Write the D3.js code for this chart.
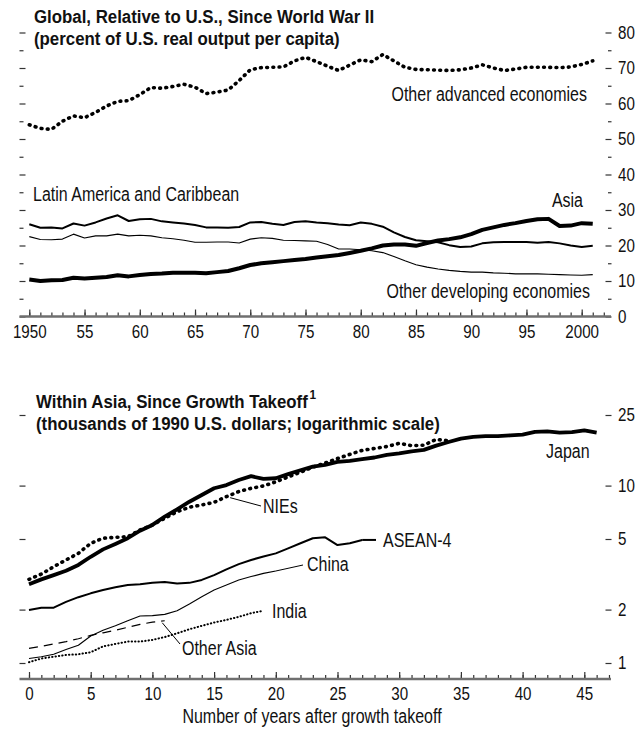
<!DOCTYPE html>
<html>
<head>
<meta charset="utf-8">
<script src="https://cdn.jsdelivr.net/npm/d3@7/dist/d3.min.js"></script>
<style>
  body { margin: 0; background: #fff; }
  svg { display: block; }
  text { font-family: "Liberation Sans", Arial, sans-serif; fill: #111; }
  .title { font-weight: bold; font-size: 18.5px; }
  .lbl { font-size: 19.5px; }
  .tick text { font-size: 18.5px; font-family: "Liberation Sans", Arial, sans-serif; fill: #111; }
  .tick line { stroke: #333; stroke-width: 1.2; }
  .series { fill: none; stroke: #000; stroke-linejoin: round; }
</style>
</head>
<body>
<svg id="chart" width="638" height="731"></svg>
<script>
/********** DATA **********/

// Top panel: percent of U.S. real output per capita, 1950-2001
var years = d3.range(1950, 2002);
var otherAdvanced = [54.0, 53.0, 52.7, 55.0, 56.5, 56.0, 57.5, 59.3, 60.6, 60.8,
  62.5, 64.5, 64.3, 64.8, 65.4, 64.6, 62.8, 63.2, 63.8, 66.5,
  69.5, 70.1, 70.2, 70.3, 72.0, 73.0, 71.8, 70.5, 69.3, 70.8,
  72.3, 71.8, 73.8, 72.0, 70.2, 69.6, 69.5, 69.4, 69.3, 69.5,
  70.0, 70.9, 70.0, 69.3, 69.7, 70.2, 70.2, 70.2, 70.1, 70.3,
  71.0, 72.0];
var latinAmerica = [26.0, 25.0, 25.1, 24.8, 26.2, 25.6, 26.5, 27.6, 28.5, 26.9,
  27.4, 27.5, 26.8, 26.5, 26.2, 25.8, 25.1, 25.1, 25.0, 25.2,
  26.5, 26.6, 26.1, 25.8, 26.6, 26.8, 26.5, 26.3, 25.9, 25.7,
  26.5, 26.1, 25.3, 23.7, 22.4, 21.5, 21.2, 20.9, 20.1, 19.6,
  19.7, 20.6, 20.9, 21.0, 21.0, 21.0, 20.8, 21.0, 20.6, 20.0,
  19.6, 19.9];
var otherDeveloping = [22.5, 21.7, 21.6, 21.8, 23.2, 22.1, 22.7, 22.7, 23.2, 22.7,
  22.9, 22.7, 22.2, 21.9, 21.5, 20.9, 20.9, 21.0, 21.0, 20.7,
  21.8, 22.2, 22.0, 21.5, 21.4, 21.3, 21.2, 20.3, 19.0, 19.0,
  18.8, 18.5, 18.0, 16.9, 15.7, 14.6, 13.9, 13.4, 13.0, 12.7,
  12.5, 12.5, 12.3, 12.2, 12.0, 12.0, 12.0, 11.9, 11.8, 11.7,
  11.6, 11.8];
var asia = [10.4, 10.0, 10.2, 10.3, 10.9, 10.7, 10.9, 11.1, 11.6, 11.3,
  11.7, 12.0, 12.1, 12.3, 12.3, 12.3, 12.2, 12.5, 12.8, 13.6,
  14.5, 15.0, 15.3, 15.6, 15.9, 16.2, 16.6, 17.0, 17.3, 17.9,
  18.5, 19.2, 20.0, 20.3, 20.3, 19.9, 20.7, 21.4, 21.8, 22.3,
  23.2, 24.4, 25.1, 25.8, 26.3, 26.9, 27.4, 27.5, 25.5, 25.6,
  26.3, 26.1];
var topMajorTicks = [0, 10, 20, 30, 40, 50, 60, 70, 80];
var topMinorTicks = [5, 15, 25, 35, 45, 55, 65, 75];

// Bottom panel: thousands of 1990 U.S. dollars, by years after takeoff
var japan = [2.78, 2.96, 3.13, 3.31, 3.57, 3.97, 4.37, 4.69, 5.05, 5.57,
  6.0, 6.68, 7.35, 8.11, 8.85, 9.66, 10.07, 10.75, 11.3, 10.9,
  11.0, 11.6, 12.2, 12.8, 13.1, 13.6, 13.8, 14.1, 14.4, 14.9,
  15.2, 15.6, 15.9, 16.8, 17.6, 18.4, 18.8, 19.0, 19.0, 19.2,
  19.4, 20.1, 20.2, 19.9, 20.0, 20.5, 19.9];
var nies = [2.96, 3.17, 3.49, 3.81, 4.15, 4.73, 5.05, 5.11, 5.15, 5.62,
  6.0, 6.54, 7.13, 7.55, 7.78, 8.05, 8.66, 9.25, 9.66, 9.95,
  10.5, 11.2, 11.9, 12.7, 13.4, 14.2, 15.0, 15.8, 16.2, 16.6,
  17.3, 16.8, 16.9, 18.2, 17.9];
var asean4 = [1.99, 2.05, 2.05, 2.21, 2.35, 2.47, 2.58, 2.67, 2.75, 2.78,
  2.83, 2.86, 2.81, 2.83, 2.94, 3.13, 3.37, 3.61, 3.81, 3.98,
  4.15, 4.43, 4.73, 5.05, 5.11, 4.62, 4.73, 4.94];
var china = [1.06, 1.085, 1.12, 1.19, 1.26, 1.42, 1.53, 1.62, 1.73, 1.84,
  1.85, 1.88, 1.97, 2.15, 2.36, 2.58, 2.75, 2.94, 3.07, 3.2,
  3.3];
var india = [1.01, 1.06, 1.085, 1.11, 1.12, 1.15, 1.24, 1.28, 1.32, 1.32,
  1.35, 1.40, 1.47, 1.55, 1.62, 1.69, 1.75, 1.82, 1.91, 1.97];
var otherAsia = [1.21, 1.24, 1.28, 1.32, 1.37, 1.43, 1.48, 1.53, 1.59, 1.65,
  1.70, 1.73];
var bottomTicks = [1, 2, 5, 10, 25];

/********** LAYOUT **********/

var svg = d3.select("#chart");

var xTop = d3.scaleLinear().domain([1950, 2000]).range([29.3, 581.7]);
var yTop = d3.scaleLinear().domain([0, 80]).range([316.5, 32.5]);

var xBot = d3.scaleLinear().domain([0, 45]).range([29, 584.3]);
var yBot = d3.scaleLog().domain([1, 25]).range([663, 415]);

var axisLeftX = 19.5, axisRightX = 605.5, axisEndX = 611;

// no narrow face is installed, so text gets squeezed to a condensed width
var NARROW = 0.82, NARROW_TITLE = 0.91;

// draws a series as a path, x comes from the point's index
function drawSeries(g, values, xFn, yScale, cls, style) {
  var line = d3.line()
    .x(function(d, i) { return xFn(i); })
    .y(function(d) { return yScale(d); });
  var p = g.append("path")
    .datum(values)
    .attr("class", "series " + cls)
    .attr("d", line);
  for (var k in style) p.style(k, style[k]);
  return p;
}

function xAxisTicks(g, scale, yPos, minorVals, majorVals, fmt) {
  // minor ticks, every year
  g.append("g")
    .attr("transform", "translate(0," + yPos + ")")
    .call(d3.axisBottom(scale).tickValues(minorVals).tickSize(-4).tickFormat(""))
    .call(function(s) { s.select(".domain").remove(); });
  // major ticks, labelled
  g.append("g")
    .attr("transform", "translate(0," + yPos + ")")
    .call(d3.axisBottom(scale).tickValues(majorVals).tickSize(-7).tickPadding(8).tickFormat(fmt))
    .call(function(s) { s.select(".domain").remove(); });
  g.append("line")
    .attr("x1", axisLeftX).attr("x2", axisEndX)
    .attr("y1", yPos).attr("y2", yPos)
    .style("stroke", "#6f6f6f").style("stroke-width", 2.3);
}

function yAxisTicks(g, scale, majorVals, minorVals, labels) {
  // right side, labelled
  g.append("g")
    .attr("transform", "translate(" + axisRightX + ",0)")
    .call(d3.axisRight(scale).tickValues(majorVals).tickSize(6).tickPadding(6.5).tickFormat(labels))
    .call(function(s) { s.select(".domain").remove(); });
  // left side, pointing inward
  g.append("g")
    .attr("transform", "translate(" + axisLeftX + ",0)")
    .call(d3.axisRight(scale).tickValues(majorVals).tickSize(6).tickFormat(""))
    .call(function(s) { s.select(".domain").remove(); });
  if (minorVals.length) {
    g.append("g")
      .attr("transform", "translate(" + (axisRightX + 2.5) + ",0)")
      .call(d3.axisRight(scale).tickValues(minorVals).tickSize(3.5).tickFormat(""))
      .call(function(s) { s.select(".domain").remove(); });
    g.append("g")
      .attr("transform", "translate(" + axisLeftX + ",0)")
      .call(d3.axisRight(scale).tickValues(minorVals).tickSize(4).tickFormat(""))
      .call(function(s) { s.select(".domain").remove(); });
  }
}

/********** TOP PANEL **********/

var topG = svg.append("g").attr("class", "top-panel");

topG.append("text").attr("class", "title").attr("x", 34).attr("y", 23)
  .text("Global, Relative to U.S., Since World War II");
topG.append("text").attr("class", "title").attr("x", 34).attr("y", 45)
  .text("(percent of U.S. real output per capita)");

yAxisTicks(topG, yTop, topMajorTicks, topMinorTicks, d3.format("d"));

xAxisTicks(topG, xTop, yTop(0), d3.range(1950, 2003), d3.range(1950, 2001, 5), function(d) {
  return (d === 1950 || d === 2000) ? String(d) : String(d).slice(2);
});

var topX = function(i) { return xTop(years[i]); };
drawSeries(topG, otherDeveloping, topX, yTop, "odev", { "stroke-width": 1.1 });
drawSeries(topG, latinAmerica, topX, yTop, "latin", { "stroke-width": 2 });
drawSeries(topG, asia, topX, yTop, "asia", { "stroke-width": 4 });
drawSeries(topG, otherAdvanced, topX, yTop, "oadv", {
  "stroke-width": 3.6, "stroke-dasharray": "0.8 5.4", "stroke-linecap": "round"
});

topG.append("text").attr("class", "lbl").attr("x", 587).attr("y", 101)
  .attr("text-anchor", "end").text("Other advanced economies");
topG.append("text").attr("class", "lbl").attr("x", 33).attr("y", 201)
  .text("Latin America and Caribbean");
topG.append("text").attr("class", "lbl").attr("x", 583).attr("y", 207)
  .attr("text-anchor", "end").text("Asia");
topG.append("text").attr("class", "lbl").attr("x", 590).attr("y", 298)
  .attr("text-anchor", "end").text("Other developing economies");

/********** BOTTOM PANEL **********/

var botG = svg.append("g").attr("class", "bottom-panel");

var t1 = botG.append("text").attr("class", "title").attr("x", 36).attr("y", 408)
  .text("Within Asia, Since Growth Takeoff");
t1.append("tspan").attr("dx", 2).attr("dy", -9).style("font-size", "13px").text("1");
botG.append("text").attr("class", "title").attr("x", 36).attr("y", 430)
  .text("(thousands of 1990 U.S. dollars; logarithmic scale)");

yAxisTicks(botG, yBot, bottomTicks, [], d3.format("d"));

var botAxisY = 679;
xAxisTicks(botG, xBot, botAxisY, d3.range(0, 48), d3.range(0, 46, 5), d3.format("d"));

botG.append("text").attr("class", "lbl").attr("x", 312).attr("y", 723)
  .attr("text-anchor", "middle").text("Number of years after growth takeoff");

var botX = function(i) { return xBot(i); };
drawSeries(botG, otherAsia, botX, yBot, "oasia", { "stroke-width": 1.2, "stroke-dasharray": "9 6" });
drawSeries(botG, india, botX, yBot, "india", {
  "stroke-width": 2, "stroke-dasharray": "0.4 3", "stroke-linecap": "round"
});
drawSeries(botG, china, botX, yBot, "china", { "stroke-width": 1.1 });
drawSeries(botG, asean4, botX, yBot, "asean", { "stroke-width": 2 });
drawSeries(botG, japan, botX, yBot, "japan", { "stroke-width": 3.8 });
drawSeries(botG, nies, botX, yBot, "nies", {
  "stroke-width": 3.6, "stroke-dasharray": "0.8 5.4", "stroke-linecap": "round"
});

// leader lines from the series to their labels
function leader(x1, y1, x2, y2, w) {
  botG.append("line")
    .attr("x1", x1).attr("y1", y1).attr("x2", x2).attr("y2", y2)
    .style("stroke", "#000").style("stroke-width", w || 1);
}
var aseanEnd = asean4.length - 1, chinaEnd = china.length - 1;
leader(xBot(16.3), yBot(nies[16]) + 1, 261, 506);
leader(xBot(aseanEnd), yBot(asean4[aseanEnd]), 376, yBot(asean4[aseanEnd]), 2);
leader(xBot(chinaEnd), yBot(china[chinaEnd]), 303, 565);
leader(xBot(10.8), yBot(otherAsia[11]) + 2, 180, 644);

botG.append("text").attr("class", "lbl").attr("x", 546).attr("y", 458).text("Japan");
botG.append("text").attr("class", "lbl").attr("x", 263).attr("y", 513).text("NIEs");
botG.append("text").attr("class", "lbl").attr("x", 383).attr("y", 547).text("ASEAN-4");
botG.append("text").attr("class", "lbl").attr("x", 307).attr("y", 571).text("China");
botG.append("text").attr("class", "lbl").attr("x", 272).attr("y", 618).text("India");
botG.append("text").attr("class", "lbl").attr("x", 182).attr("y", 655).text("Other Asia");

// squeeze every text about its own anchor x
svg.selectAll("text").each(function() {
  var t = d3.select(this);
  var x = +t.attr("x") || 0;
  var s = t.classed("title") ? NARROW_TITLE : NARROW;
  t.attr("transform", "translate(" + x + ",0) scale(" + s + ",1) translate(" + (-x) + ",0)");
});
</script>
</body>
</html>
